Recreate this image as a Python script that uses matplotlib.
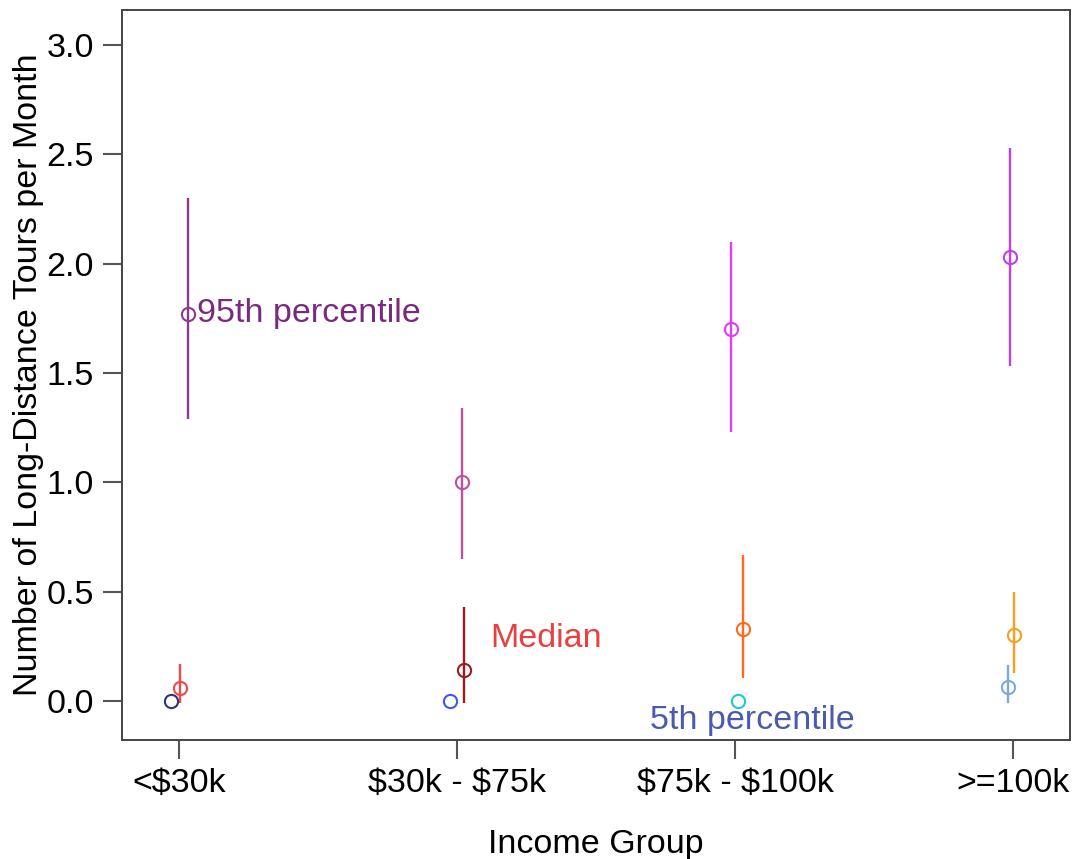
import numpy as np
import matplotlib
matplotlib.use("Agg")
import matplotlib.pyplot as plt

plt.rcParams["font.family"] = ["Liberation Sans", "DejaVu Sans"]

groups = ["<$30k", "$30k - $75k", "$75k - $100k", ">=100k"]

# 95th percentile: point, lower, upper
p95 = [1.77, 1.00, 1.70, 2.03]
p95_lo = [1.29, 0.65, 1.23, 1.53]
p95_hi = [2.30, 1.34, 2.10, 2.53]

# median
med = [0.06, 0.14, 0.33, 0.30]
med_lo = [-0.01, -0.01, 0.105, 0.13]
med_hi = [0.17, 0.43, 0.67, 0.50]

# 5th percentile (no interval for first three groups)
p05 = [0.0, 0.0, 0.0, 0.065]
p05_lo = [0.0, 0.0, 0.0, -0.01]
p05_hi = [0.0, 0.0, 0.0, 0.165]

# small horizontal jitter per point, as drawn
jit95 = [0.032, 0.018, -0.014, -0.011]
jitmed = [0.004, 0.025, 0.029, 0.004]
jit05 = [-0.029, -0.025, 0.011, -0.018]

col95 = ["#8c3a8c", "#c0509c", "#e03cf6", "#c03ef2"]
colmed = ["#f04848", "#a01a1a", "#ff6a1e", "#f5a020"]
col05 = ["#2a3580", "#3a5af0", "#22c8d0", "#7aa8e0"]

fig = plt.figure(figsize=(10.76, 8.59), dpi=100)
ax = fig.add_axes([0.1134, 0.1385, 0.881, 0.850])

x = np.arange(len(groups))


def draw(vals, lo, hi, jit, cols):
    for i in range(len(vals)):
        xi = x[i] + jit[i]
        if hi[i] > lo[i]:
            ax.plot([xi, xi], [lo[i], hi[i]], color=cols[i], lw=1.7,
                    solid_capstyle="butt", zorder=2)
        ax.plot(xi, vals[i], marker="o", ms=9.5, mfc="none",
                mec=cols[i], mew=1.5, zorder=3)


draw(p95, p95_lo, p95_hi, jit95, col95)
draw(med, med_lo, med_hi, jitmed, colmed)
draw(p05, p05_lo, p05_hi, jit05, col05)

fs = 24.5
ax.text(0.065, 1.77, "95th percentile", color="#7a2a7e", fontsize=fs,
        va="center", ha="left")
ax.text(1.119, 0.288, "Median", color="#e84040", fontsize=fs,
        va="center", ha="left")
ax.text(1.694, -0.087, "5th percentile", color="#4a5ab0", fontsize=fs,
        va="center", ha="left")

ax.set_xlim(-0.205, 3.205)
ax.set_ylim(-0.178, 3.16)
ax.set_xticks(x)
ax.set_xticklabels([g.replace("$", r"\$") for g in groups])
ax.set_yticks([0.0, 0.5, 1.0, 1.5, 2.0, 2.5, 3.0])
ax.set_yticklabels(["0.0", "0.5", "1.0", "1.5", "2.0", "2.5", "3.0"])
ax.tick_params(axis="both", direction="out", length=14, width=1.5,
               color="#555555", labelsize=fs, pad=6)

for s in ax.spines.values():
    s.set_color("#444444")
    s.set_linewidth(1.4)

ax.set_xlabel("Income Group", fontsize=fs, labelpad=22)
ax.set_ylabel("Number of Long-Distance Tours per Month", fontsize=fs,
              labelpad=2)

fig.savefig("out.png", dpi=100)
plt.close(fig)
